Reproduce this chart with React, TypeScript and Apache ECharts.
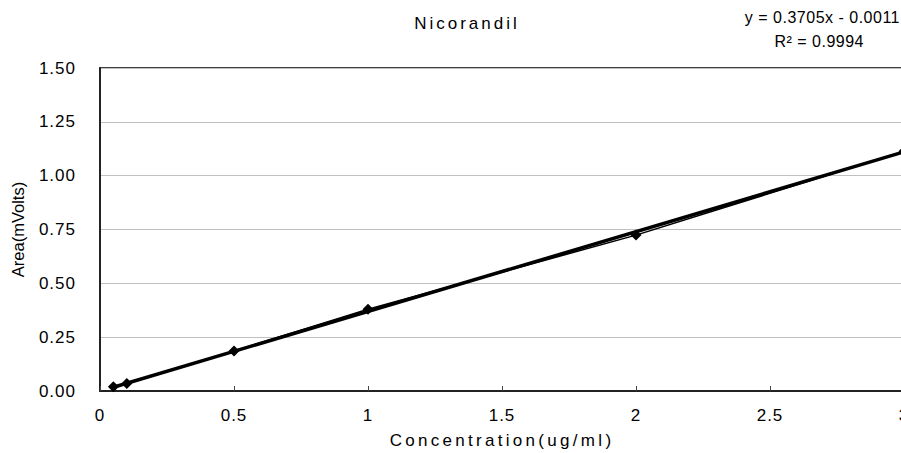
import React, { useEffect, useRef } from "react";
import * as echarts from "echarts";

const concentrations = [0.05, 0.1, 0.5, 1, 2, 3];
const areas = [0.02, 0.035, 0.186, 0.38, 0.724, 1.113];
const slope = 0.3705;
const intercept = -0.0011;
const rSquared = "0.9994";
const trendX = [0.05, 3];
const xTicks = { min: 0, max: 3, interval: 0.5 };
const yTicks = { min: 0, max: 1.5, interval: 0.25 };

const TITLE = "Nicorandil";
const X_NAME = "Concentration(ug/ml)";
const Y_NAME = "Area(mVolts)";
const EQUATION = "y = 0.3705x - 0.0011";
const R2_TEXT = "R\u00B2 = " + rSquared;

const FONT = "'Liberation Sans', Arial, sans-serif";

function applySpacing(root: HTMLElement) {
  const texts = root.querySelectorAll("text");
  texts.forEach((t) => {
    const s = t.textContent || "";
    let sp = "1px";
    if (s === TITLE) sp = "3px";
    else if (s === X_NAME) sp = "3.3px";
    else if (s === Y_NAME) sp = "0px";
    else if (s === EQUATION || s === R2_TEXT) sp = "0.5px";
    t.setAttribute("letter-spacing", sp);
  });
}

export default function App() {
  const ref = useRef<HTMLDivElement>(null);
  useEffect(() => {
    if (!ref.current) return;
    const chart = echarts.init(ref.current, undefined, { renderer: "svg" });
    const points = concentrations.map((c, i) => [c, areas[i]]);
    const trend = trendX.map((x) => [x, slope * x + intercept]);
    chart.setOption({
      animation: false,
      backgroundColor: "#fff",
      textStyle: { fontFamily: FONT, color: "#000" },
      title: {
        text: TITLE,
        left: 462,
        textAlign: "center",
        top: 10,
        textStyle: { fontSize: 17, fontWeight: "normal", color: "#000", fontFamily: FONT },
      },
      graphic: [
        {
          type: "text",
          x: 900,
          y: 9,
          style: {
            text: EQUATION,
            fill: "#000",
            font: `16px ${FONT}`,
            textAlign: "right",
            textVerticalAlign: "top",
          },
        },
        {
          type: "text",
          x: 864,
          y: 33,
          style: {
            text: R2_TEXT,
            fill: "#000",
            font: `16px ${FONT}`,
            textAlign: "right",
            textVerticalAlign: "top",
          },
        },
      ],
      grid: {
        left: 100,
        top: 68,
        width: 804,
        height: 323,
        outerBoundsMode: "none",
        containLabel: false,
        show: true,
        borderColor: "#000",
        borderWidth: 1.5,
        backgroundColor: "transparent",
      },
      xAxis: {
        type: "value",
        min: xTicks.min,
        max: xTicks.max,
        interval: xTicks.interval,
        name: X_NAME,
        nameLocation: "middle",
        nameGap: 41,
        nameTextStyle: { fontSize: 17, color: "#000", fontFamily: FONT },
        axisLine: { show: true, lineStyle: { color: "#222", width: 2 } },
        axisTick: { show: true, inside: true, length: 5, lineStyle: { color: "#444" } },
        axisLabel: { fontSize: 17, color: "#000", margin: 16, fontFamily: FONT },
        splitLine: { show: false },
      },
      yAxis: {
        type: "value",
        min: yTicks.min,
        max: yTicks.max,
        interval: yTicks.interval,
        name: Y_NAME,
        nameLocation: "middle",
        nameGap: 74,
        nameTextStyle: { fontSize: 16.5, color: "#000", fontFamily: FONT },
        axisLine: { show: true, lineStyle: { color: "#222", width: 2 } },
        axisTick: { show: false },
        axisLabel: {
          fontSize: 17,
          color: "#000",
          margin: 24,
          fontFamily: FONT,
          formatter: (v: number) => v.toFixed(2),
        },
        splitLine: { show: true, lineStyle: { color: "#c0c0c0", width: 1 } },
      },
      series: [
        {
          type: "line",
          data: trend,
          symbol: "none",
          lineStyle: { color: "#000", width: 3.5 },
          z: 2,
        },
        {
          type: "line",
          data: points,
          symbol: "diamond",
          symbolSize: 11,
          itemStyle: { color: "#000" },
          lineStyle: { color: "#000", width: 1.5 },
          z: 3,
        },
      ],
    });
    const el = ref.current;
    applySpacing(el);
    const raf = requestAnimationFrame(() => applySpacing(el));
    const obs = new MutationObserver(() => {
      obs.disconnect();
      applySpacing(el);
      obs.observe(el, { childList: true, subtree: true, characterData: true });
    });
    obs.observe(el, { childList: true, subtree: true, characterData: true });
    return () => {
      cancelAnimationFrame(raf);
      obs.disconnect();
      chart.dispose();
    };
  }, []);
  return (
    <div
      ref={ref}
      style={{ position: "fixed", left: 0, top: 0, width: 901, height: 453, background: "#fff" }}
    />
  );
}
